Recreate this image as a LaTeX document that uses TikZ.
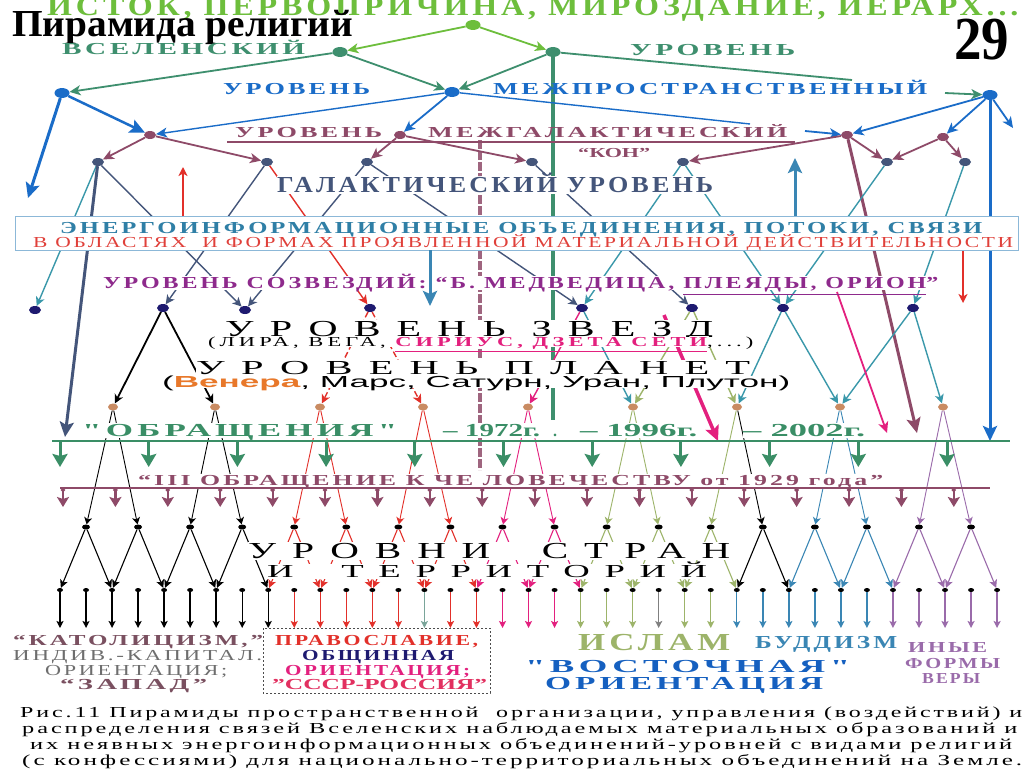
\documentclass[tikz,border=0pt]{standalone}
\usepackage{fontspec}
\setmainfont{Liberation Serif}
\newfontfamily\sansf{Liberation Sans}
\newfontfamily\wideA[LetterSpace=12]{Liberation Serif}
\newfontfamily\wideB[LetterSpace=40]{Liberation Serif}
\newfontfamily\wideC[LetterSpace=18]{Liberation Serif}
\newfontfamily\capf[LetterSpace=12]{Liberation Serif}
\usetikzlibrary{arrows.meta,shapes.geometric}
\definecolor{lgreen}{HTML}{6DBE3C}
\definecolor{tgreen}{HTML}{3E8F6E}
\definecolor{mblue}{HTML}{1A6CC8}
\definecolor{maroon}{HTML}{8E4A68}
\definecolor{slate}{HTML}{44557A}
\definecolor{cteal}{HTML}{3A98AA}
\definecolor{cnavy}{HTML}{1E1A70}
\definecolor{cred}{HTML}{E2302A}
\definecolor{cmag}{HTML}{E3207E}
\definecolor{cpurp}{HTML}{8E2A8C}
\definecolor{ogreen}{HTML}{3A8E66}
\definecolor{corange}{HTML}{E8782A}
\definecolor{ctan}{HTML}{C98B62}
\definecolor{ilgreen}{HTML}{9DB46A}
\definecolor{bblue}{HTML}{3A86B4}
\definecolor{ipurp}{HTML}{9A6BAA}
\definecolor{boxblue}{HTML}{2F7FA6}
\definecolor{boxred}{HTML}{E0403A}
\definecolor{boxedge}{HTML}{8CB8D8}
\definecolor{kgray}{HTML}{6E6E6E}
\definecolor{kmar}{HTML}{7A5060}
\definecolor{tgray}{HTML}{7AA59A}
\definecolor{vblue}{HTML}{1560C0}
\definecolor{srred}{HTML}{E23060}
\newcommand\FitText[4]{\resizebox{#1pt}{#2pt}{#3\setbox0=\hbox{#4}\setbox2=\hbox{H}\ht0=\ht2 \dp0=0pt \box0}}
\tikzset{
 dA/.style={ellipse, inner sep=0pt, minimum width=15pt, minimum height=10pt, fill=#1},
 dB/.style={ellipse, inner sep=0pt, minimum width=12pt, minimum height=8pt, fill=#1},
 dC/.style={ellipse, inner sep=0pt, minimum width=10pt, minimum height=7pt, fill=#1},
 dD/.style={ellipse, inner sep=0pt, minimum width=8pt, minimum height=5pt, fill=#1},
 dE/.style={ellipse, inner sep=0pt, minimum width=6pt, minimum height=4pt, fill=#1},
 a1/.style={draw=#1, line width=1.8pt, -{Stealth[length=11pt,width=10pt,inset=3pt]}},
 a2/.style={draw=#1, line width=1.4pt, -{Stealth[length=9pt,width=9pt,inset=2.5pt]}},
 ath/.style={draw=#1, line width=3pt, -{Stealth[length=15pt,width=14pt,inset=3pt]}},
 pl/.style={draw=#1, line width=0.9pt, -{Stealth[length=7pt,width=8pt,inset=2pt]}},
 zz/.style={draw=#1, line width=1.1pt, -{Stealth[length=8pt,width=8pt,inset=2pt]}},
 va/.style={draw=#1, line width=1.4pt, -{Stealth[length=7pt,width=7pt,inset=1.5pt]}},
 ga/.style={draw=ogreen, line width=3pt, -{Stealth[length=13pt,width=15pt,inset=2pt]}},
 ma/.style={draw=maroon, line width=2.2pt, {Circle[length=4pt]}-{Stealth[length=10pt,width=12pt,inset=2pt]}},
 lbl/.style={anchor=base west, inner xsep=0pt, inner ysep=1.5pt, text=#1},
 lbl/.default=black,
 wl/.style={lbl=#1, fill=white},
 wl/.default=black,
}
\begin{document}
\begin{tikzpicture}[x=1pt,y=-1pt]
\fill[white] (0,0) rectangle (1024,768);
\useasboundingbox (0,0) rectangle (1024,768);

% ---------- dots ----------
\node[dA=lgreen] (A) at (473,25) {};
\node[dA=tgreen] (B) at (340,52) {};
\node[dA=tgreen] (C) at (553,52) {};
\node[dA=mblue] (D) at (62,93) {};
\node[dA=mblue] (E) at (452,92) {};
\node[dA=mblue] (F) at (990,95) {};
\node[dB=maroon] (G) at (150,135) {};
\node[dB=maroon] (H) at (400,135) {};
\node[dB=maroon] (I) at (847,135) {};
\node[dB=maroon] (J) at (943,137) {};
\foreach \n/\x in {K/98,L/267,M/367,N/532,O/683,P/887,Q/965}
  \node[dB=slate] (\n) at (\x,162) {};
\foreach \i/\x/\y in {1/35/310,2/163/308,3/245/310,4/370/308,5/582/308,6/692/308,7/783/308,8/913/308}
  \node[dB=cnavy] (s\i) at (\x,\y) {};
\foreach \i/\x in {1/113,2/215,3/320,4/423,5/528,6/633,7/737,8/840,9/943}
  \node[dC=ctan] (p\i) at (\x,407) {};
\foreach \j in {0,...,17}
  \node[dD=black] (r2-\j) at ({86+52.06*\j},527) {};

% ---------- free coordinates ----------
\coordinate (dl) at (28,198);
\coordinate (fr) at (1013,128);
\coordinate (fd) at (990,441);
\coordinate (cm) at (852,80);
\coordinate (fa) at (945,93);
\coordinate (em) at (750,124);
\coordinate (ia) at (805,131);
\coordinate (id) at (917,433);
\coordinate (kd) at (65,437);
\coordinate (ra1) at (183,217); \coordinate (ra2) at (183,167);
\coordinate (ba1) at (795,216); \coordinate (ba2) at (795,158);
\coordinate (bd1) at (430,250); \coordinate (bd2) at (430,306);
\coordinate (rd1) at (963,250); \coordinate (rd2) at (963,303);
\coordinate (md1) at (837,292); \coordinate (mt1) at (887,433);
\coordinate (md2) at (664,315); \coordinate (mt2) at (718,441);
\coordinate (cv) at (553,420);
\coordinate (mv1) at (480,140); \coordinate (mv2) at (480,470);
\coordinate (gl1) at (52,441); \coordinate (gl2) at (1010,441);
\coordinate (ml1) at (60,488); \coordinate (ml2) at (990,488);
\coordinate (ul1) at (227,142); \coordinate (ul2) at (795,142);

% ---------- verticals ----------
\draw[tgreen, line width=3.5pt] (C.south) -- (cv);
\draw[maroon!85, line width=4pt, dash pattern=on 9pt off 2pt] (mv1) -- (mv2);

% ---------- top connectors ----------
\draw[a1=lgreen] (A) -- (B);
\draw[a1=lgreen] (A) -- (C);
\draw[a1=tgreen] (B) -- (D);
\draw[a1=tgreen] (B) -- (E);
\draw[a1=tgreen] (C) -- (E);
\draw[tgreen, line width=1.8pt] (C) -- (cm);
\draw[a1=tgreen] (fa) -- (F);
\draw[ath=mblue] (D) -- (dl);
\draw[ath=mblue, line width=2.5pt] (D) -- (G);
\draw[a1=mblue, line width=1.4pt] (E) -- (G);
\draw[a1=mblue] (E) -- (H);
\draw[mblue, line width=1.4pt] (E) -- (em);
\draw[a1=mblue] (ia) -- (I);
\draw[a1=mblue] (F) -- (I);
\draw[a1=mblue] (F) -- (J);
\draw[a1=mblue] (F) -- (fr);
\draw[ath=mblue] (F) -- (fd);
\draw[maroon, line width=1.8pt] (ul1) -- (ul2);
\foreach \u/\v in {G/K,G/L,H/M,H/N,I/O,I/P,J/P,J/Q}
  \draw[a1=maroon] (\u) -- (\v);
\draw[ath=maroon] (I) -- (id);

% ---------- galactic -> stars ----------
\draw[a2=cteal] (K) -- (s1);
\draw[ath=slate] (K) -- (kd);
\draw[a2=slate] (K) -- (s3);
\draw[a2=slate] (L) -- (s2);
\draw[a2=cred] (L) -- (s4);
\draw[a2=slate] (M) -- (s3);
\draw[a2=slate] (M) -- (s5);
\draw[a2=slate] (N) -- (s6);
\draw[a2=cteal] (O) -- (s5);
\draw[a2=cteal] (O) -- (s7);
\draw[a2=cteal] (P) -- (s7);
\draw[a2=cteal] (Q) -- (s8);
\draw[a2=cred, line width=2pt] (ra1) -- (ra2);
\draw[ath=bblue] (ba1) -- (ba2);
\draw[a2=cred, line width=2pt] (rd1) -- (rd2);

% ---------- stars -> planets ----------
\draw[a2=black, line width=1.8pt] (s2) -- (p1);
\draw[a2=black, line width=1.8pt] (s2) -- (p2);
\draw[a2=cred, dash pattern=on 6pt off 3pt] (s4) -- (p3);
\draw[a2=cred, dash pattern=on 6pt off 3pt] (s4) -- (p4);
\draw[a2=cmag] (s5) -- (p5);
\draw[a2=cteal] (s5) -- (p6);
\draw[a2=ilgreen] (s6) -- (p6);
\draw[a2=ilgreen] (s6) -- (p7);
\draw[a2=cteal] (s7) -- (p7);
\draw[a2=cteal] (s7) -- (p8);
\draw[a2=cteal] (s8) -- (p8);
\draw[a2=cteal] (s8) -- (p9);
\draw[a1=cmag] (md1) -- (mt1);
\draw[ath=cmag, line width=3.5pt] (md2) -- (mt2);

% ---------- lower rows ----------
\foreach \k/\c in {0/black,1/black,2/black,3/black,4/black,5/black,6/black,7/black,8/black,9/cred,10/cred,11/cred,12/cred,13/cred,14/tgray,15/cred,16/cred,17/cmag,18/cmag,19/cmag,20/ilgreen,21/ilgreen,22/ilgreen,23/gray,24/ilgreen,25/ilgreen,26/bblue,27/bblue,28/bblue,29/bblue,30/bblue,31/bblue,32/ipurp,33/ipurp,34/ipurp,35/ipurp,36/ipurp}{
  \node[dE=black] (r3-\k) at ({60+26.03*\k},590) {};
  \coordinate (r3e-\k) at ({60+26.03*\k},628);
  \draw[va=\c] (r3-\k) -- (r3e-\k);
}
\foreach \i/\ca/\cb in {1/black/black,2/black/black,3/cred/cred,4/cred/cred,5/cmag/cmag,6/ilgreen/ilgreen,7/ilgreen/black,8/bblue/bblue,9/ipurp/ipurp}{
  \pgfmathtruncatemacro\a{2*\i-2}
  \pgfmathtruncatemacro\b{2*\i-1}
  \draw[pl=\ca] (p\i) -- (r2-\a);
  \draw[pl=\cb] (p\i) -- (r2-\b);
}
\foreach \j/\c in {0/black,1/black,2/black,3/black,4/cred,5/cred,6/cred,7/cred,8/cmag,9/cmag,10/ilgreen,11/ilgreen,12/ilgreen,13/black,14/bblue,15/bblue,16/ipurp,17/ipurp}{
  \pgfmathtruncatemacro\a{2*\j}
  \pgfmathtruncatemacro\b{2*\j+2}
  \draw[zz=\c] (r2-\j) -- (r3-\a);
  \draw[zz=\c] (r2-\j) -- (r3-\b);
}
\draw[ogreen, line width=2pt] (gl1) -- (gl2);
\foreach \i in {0,...,10}{
  \coordinate (g\i) at ({60+88.7*\i},441);
  \coordinate (ge\i) at ({60+88.7*\i},467);
  \draw[ga] (g\i) -- (ge\i);
}
\draw[maroon, line width=1.6pt] (ml1) -- (ml2);
\foreach \i in {0,...,17}{
  \coordinate (m\i) at ({63+52.4*\i},488);
  \coordinate (me\i) at ({63+52.4*\i},507);
  \draw[ma] (m\i) -- (me\i);
}

% ---------- box ----------
\node[draw=boxedge, fill=white, line width=1pt, minimum width=1003pt, minimum height=34pt, inner sep=0pt, anchor=north west] (box) at (15,216) {};

% ---------- texts ----------
\node[lbl=lgreen] (title) at (47,16) {\FitText{971}{18}{\wideA\bfseries}{ИСТОК, ПЕРВОПРИЧИНА, МИРОЗДАНИЕ, ИЕРАРХ...}};
\node[lbl] (head) at (12,37) {\FitText{341}{25}{\bfseries}{Пирамида религий}};
\node[lbl] (num) at (954,60) {\FitText{55}{40}{\bfseries}{29}};
\node[lbl=tgreen] (t-vs) at (62,55) {\FitText{243}{11}{\wideA\bfseries}{ВСЕЛЕНСКИЙ}};
\node[lbl=tgreen] (t-ur1) at (630,56) {\FitText{165}{11}{\wideA\bfseries}{УРОВЕНЬ}};
\node[lbl=mblue] (t-ur2) at (223,94) {\FitText{147}{11}{\wideA\bfseries}{УРОВЕНЬ}};
\node[lbl=mblue] (t-mp) at (493,94) {\FitText{434}{11}{\wideA\bfseries}{МЕЖПРОСТРАНСТВЕННЫЙ}};
\node[lbl=maroon] (t-ur3) at (235,137) {\FitText{147}{10}{\wideA\bfseries}{УРОВЕНЬ}};
\node[lbl=maroon] (t-mg) at (428,137) {\FitText{359}{10}{\wideA\bfseries}{МЕЖГАЛАКТИЧЕСКИЙ}};
\node[lbl=maroon] (t-kon) at (578,157) {\FitText{72}{9}{\bfseries}{“КОН”}};
\node[wl=slate] (t-gal) at (277,192) {\FitText{436}{15}{\wideA\bfseries}{ГАЛАКТИЧЕСКИЙ УРОВЕНЬ}};
\node[lbl=boxblue] (t-b1) at (60,233) {\FitText{922}{11}{\wideA\bfseries}{ЭНЕРГОИНФОРМАЦИОННЫЕ ОБЪЕДИНЕНИЯ, ПОТОКИ, СВЯЗИ}};
\node[lbl=boxred] (t-b2) at (33,247) {\FitText{980}{10}{\wideA}{В ОБЛАСТЯХ\ \ И ФОРМАХ ПРОЯВЛЕННОЙ МАТЕРИАЛЬНОЙ ДЕЙСТВИТЕЛЬНОСТИ}};
\node[wl=cpurp] (t-soz) at (103,288) {\FitText{835}{11}{\wideA\bfseries}{УРОВЕНЬ СОЗВЕЗДИЙ: “Б. МЕДВЕДИЦА, \underline{ПЛЕЯДЫ, ОРИОН}”}};
\node[wl] (t-zv) at (225,336) {\FitText{488}{15}{\wideB}{УРОВЕНЬ ЗВЕЗД}};
\node[wl, inner ysep=0.5pt] (t-lira) at (208,346) {\FitText{545}{9}{\wideC}{(ЛИРА, ВЕГА, \textcolor{cmag}{\bfseries\underline{СИРИУС, ДЗЕТА СЕТИ}},...)}};
\node[wl] (t-pl) at (196,374) {\FitText{554}{13}{\wideB}{УРОВЕНЬ ПЛАНЕТ}};
\node[wl, inner ysep=0.5pt] (t-ven) at (162,387) {\FitText{628}{11}{\sansf}{(\textcolor{corange}{\bfseries Венера}, Марс, Сатурн, Уран, Плутон)}};
\node[wl=ogreen] (t-ob1) at (82,436) {\FitText{315}{12}{\wideA\bfseries}{"ОБРАЩЕНИЯ"}};
\node[wl=ogreen] (t-ob2) at (443,436) {\FitText{97}{12}{\bfseries}{– 1972г.}};
\node[lbl=ogreen] (t-ob3) at (553,436) {\bfseries\fontsize{16}{16}\selectfont .};
\node[wl=ogreen] (t-ob4) at (580,436) {\FitText{117}{12}{\bfseries}{– 1996г.}};
\node[wl=ogreen] (t-ob5) at (743,436) {\FitText{122}{12}{\bfseries}{– 2002г.}};
\node[wl=maroon] (t-iii) at (138,485) {\FitText{745}{10}{\wideA\bfseries}{“III ОБРАЩЕНИЕ К ЧЕ ЛОВЕЧЕСТВУ от 1929 года”}};
\node[wl] (t-st) at (248,558) {\FitText{482}{15}{\wideB}{УРОВНИ\ \ СТРАН}};
\node[wl] (t-ter) at (267,577) {\FitText{440}{12}{\wideB}{И\ \ ТЕРРИТОРИЙ}};
\draw[ath=bblue] (bd1) -- (bd2);

% bottom labels
\node[lbl=kmar] (t-kat) at (13,645) {\FitText{250}{10}{\wideA\bfseries}{“КАТОЛИЦИЗМ,”}};
\node[lbl=kgray] (t-ind) at (13,660) {\FitText{249}{10}{\wideA}{ИНДИВ.-КАПИТАЛ.}};
\node[lbl=kgray] (t-or1) at (45,675) {\FitText{182}{10}{\wideA}{ОРИЕНТАЦИЯ;}};
\node[lbl=kmar] (t-zap) at (60,689) {\FitText{147}{10}{\wideA\bfseries}{“ЗАПАД”}};
\coordinate (db1) at (263,628); \coordinate (db2) at (490,693);
\draw[black!70, line width=1pt, dash pattern=on 2pt off 2pt] (db1) rectangle (db2);
\node[lbl=cred] (t-prav) at (275,645) {\FitText{203}{10}{\wideA\bfseries}{ПРАВОСЛАВИЕ,}};
\node[lbl=cnavy] (t-obsh) at (302,660) {\FitText{152}{10}{\wideA\bfseries}{ОБЩИННАЯ}};
\node[lbl=cmag] (t-or2) at (285,675) {\FitText{185}{10}{\wideA\bfseries}{ОРИЕНТАЦИЯ;}};
\node[lbl=srred] (t-sssr) at (272,689) {\FitText{215}{10}{\bfseries}{"СССР-РОССИЯ"}};
\node[lbl=ilgreen] (t-isl) at (578,650) {\FitText{152}{16}{\wideA\bfseries}{ИСЛАМ}};
\node[lbl=bblue] (t-bud) at (755,648) {\FitText{142}{12}{\wideA\bfseries}{БУДДИЗМ}};
\node[lbl=ipurp] (t-in1) at (908,652) {\FitText{79}{10}{\wideA\bfseries}{ИНЫЕ}};
\node[lbl=ipurp] (t-in2) at (905,668) {\FitText{95}{10}{\wideA\bfseries}{ФОРМЫ}};
\node[lbl=ipurp] (t-in3) at (922,683) {\FitText{58}{10}{\wideA\bfseries}{ВЕРЫ}};
\node[lbl=vblue] (t-vost) at (525,672) {\FitText{325}{12}{\wideA\bfseries}{"ВОСТОЧНАЯ"}};
\node[lbl=vblue] (t-or3) at (545,689) {\FitText{278}{12}{\wideA\bfseries}{ОРИЕНТАЦИЯ}};

% caption
\node[lbl] (cap1) at (20,717) {\FitText{1002}{10}{\capf}{Рис.11 Пирамиды пространственной\ \ организации, управления (воздействий) и}};
\node[lbl] (cap2) at (22,733) {\FitText{995}{10}{\capf}{распределения связей Вселенских наблюдаемых материальных образований и}};
\node[lbl] (cap3) at (30,749) {\FitText{982}{10}{\capf}{их неявных энергоинформационных объединений-уровней с видами религий}};
\node[lbl] (cap4) at (22,765) {\FitText{1000}{10}{\capf}{(с конфессиями) для национально-территориальных объединений на Земле.}};
\end{tikzpicture}
\end{document}
